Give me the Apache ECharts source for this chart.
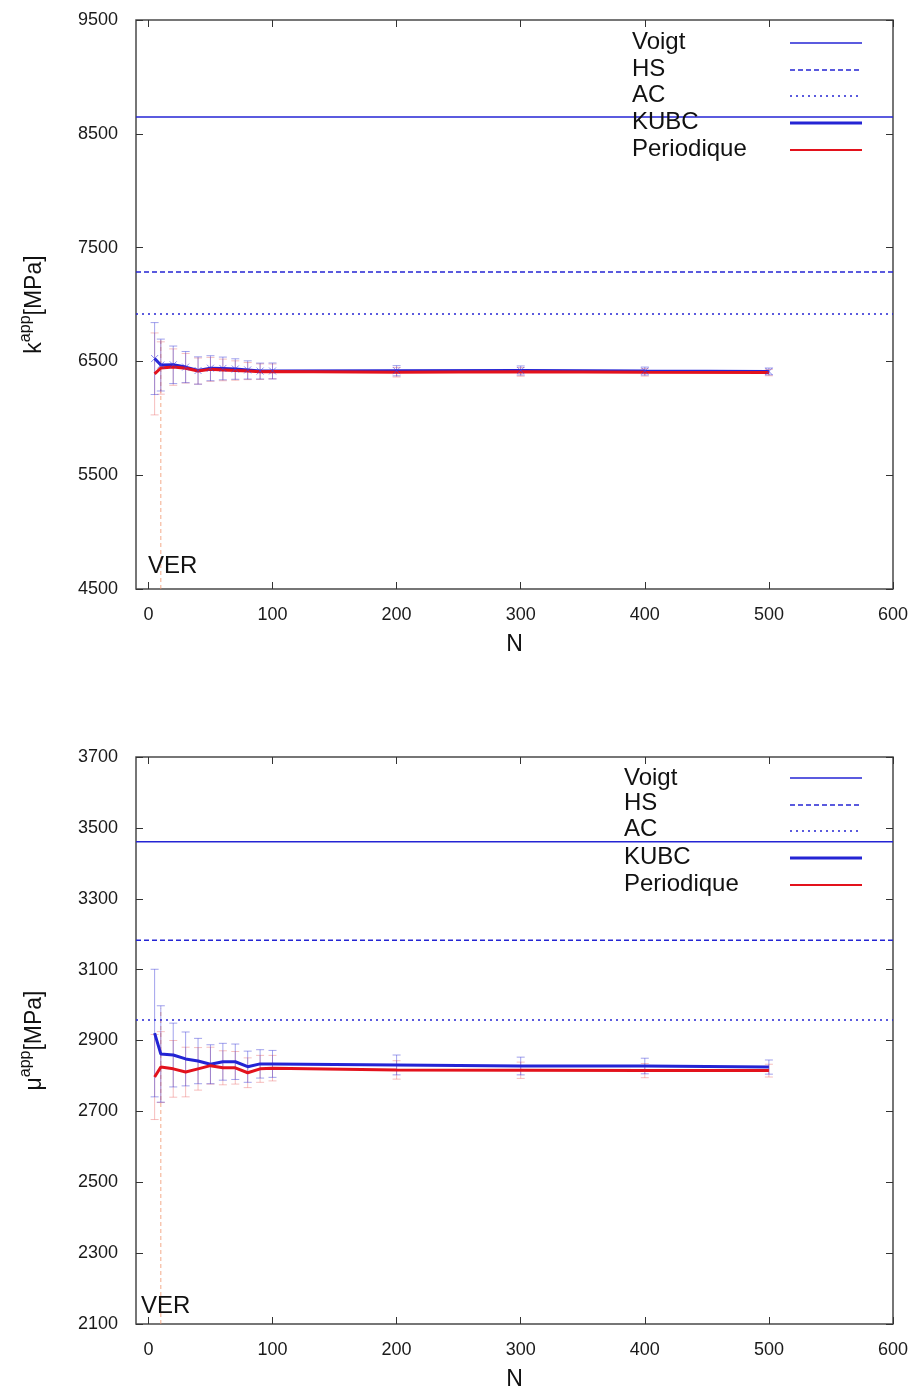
<!DOCTYPE html>
<html>
<head>
<meta charset="utf-8">
<script src="https://cdn.jsdelivr.net/npm/echarts@6/dist/echarts.min.js"></script>
<style>
  html, body { margin: 0; padding: 0; background: #fff; }
  #chart { width: 919px; height: 1392px; }
</style>
</head>
<body>
<div id="chart"></div>
<script>
// Number of inclusions in the volume element
const N = [5, 10, 20, 30, 40, 50, 60, 70, 80, 90, 100, 200, 300, 400, 500];

// Apparent bulk modulus k (MPa) with standard deviations
const kKUBC      = [6525, 6468, 6470, 6450, 6420, 6440, 6438, 6433, 6425, 6415, 6416, 6418, 6420, 6415, 6412];
const kKUBCErr   = [316, 228, 165, 137, 120, 110, 100, 90, 80, 70, 70, 45, 40, 35, 30];
const kPer       = [6390, 6442, 6450, 6440, 6415, 6430, 6425, 6420, 6415, 6410, 6412, 6405, 6408, 6404, 6402];
const kPerErr    = [360, 230, 160, 130, 115, 105, 95, 85, 75, 68, 65, 42, 38, 33, 28];
const kVoigt = 8648, kHS = 7286, kAC = 6917;

// Apparent shear modulus mu (MPa) with standard deviations
const muKUBC     = [2921, 2862, 2859, 2848, 2842, 2833, 2840, 2840, 2826, 2834, 2834, 2831, 2828, 2828, 2825];
const muKUBCErr  = [180, 136, 90, 76, 64, 55, 52, 50, 44, 40, 38, 28, 25, 22, 20];
const muPer      = [2797, 2825, 2820, 2811, 2820, 2829, 2823, 2823, 2809, 2820, 2822, 2817, 2816, 2815, 2815];
const muPerErr   = [120, 100, 80, 70, 60, 52, 48, 46, 42, 38, 36, 26, 23, 20, 18];
const muVoigt = 3461, muHS = 3183, muAC = 2958;

// Representative volume element size and extent of its marker line
const nVER = 10;
const kVERTop = 6700, muVERTop = 2990;

// Axis ticks
const xTicks  = [0, 100, 200, 300, 400, 500, 600];
const kTicks  = [4500, 5500, 6500, 7500, 8500, 9500];
const muTicks = [2100, 2300, 2500, 2700, 2900, 3100, 3300, 3500, 3700];
const xRange = [-10, 600];

const legendNames = ['Voigt', 'HS', 'AC', 'KUBC', 'Periodique'];

const FONT = 'Liberation Sans, Arial, sans-serif';
const BLUE = '#2424d4';
const RED = '#e3121c';
const BLUE_ERR = 'rgba(70,70,220,0.5)';
const RED_ERR = 'rgba(235,110,110,0.45)';
const FRAME = '#4a4a4a';

const chart = echarts.init(document.getElementById('chart'), null, { renderer: 'canvas' });

function errorSeries(xi, yi, xs, ys, errs, color) {
  return {
    type: 'custom',
    xAxisIndex: xi, yAxisIndex: yi,
    silent: true,
    z: 1,
    data: xs.map((x, i) => [x, ys[i] - errs[i], ys[i] + errs[i]]),
    renderItem: function (params, api) {
      const lo = api.coord([api.value(0), api.value(1)]);
      const hi = api.coord([api.value(0), api.value(2)]);
      const w = 4;
      const style = { stroke: color, lineWidth: 1 };
      return {
        type: 'group',
        children: [
          { type: 'line', shape: { x1: lo[0], y1: lo[1], x2: hi[0], y2: hi[1] }, style },
          { type: 'line', shape: { x1: lo[0] - w, y1: lo[1], x2: lo[0] + w, y2: lo[1] }, style },
          { type: 'line', shape: { x1: hi[0] - w, y1: hi[1], x2: hi[0] + w, y2: hi[1] }, style }
        ]
      };
    }
  };
}

function boundSeries(xi, yi, value, type, width) {
  return {
    type: 'line', xAxisIndex: xi, yAxisIndex: yi, silent: true,
    symbol: 'none', z: 2,
    data: [[xRange[0], value], [xRange[1], value]],
    lineStyle: { color: BLUE, width: width, type: type }
  };
}

function dataSeries(xi, yi, ys, color, withCross) {
  return {
    type: 'line', xAxisIndex: xi, yAxisIndex: yi, silent: true, z: 3,
    data: N.map((x, i) => [x, ys[i]]),
    symbol: withCross ? 'path://M0,0L10,10M10,0L0,10' : 'none',
    symbolSize: 7,
    showSymbol: withCross,
    itemStyle: { color: 'rgba(0,0,0,0)', borderColor: 'rgba(60,60,230,0.6)', borderWidth: 1 },
    lineStyle: { color: color, width: 3 }
  };
}

function verSeries(xi, yi, lo, hi) {
  return {
    type: 'line', xAxisIndex: xi, yAxisIndex: yi, silent: true, z: 0,
    symbol: 'none',
    data: [[nVER, lo], [nVER, hi]],
    lineStyle: { color: 'rgba(240,150,110,0.8)', width: 1, type: [4, 3] }
  };
}

function yAxisPair(gi, ticks, name) {
  const base = {
    gridIndex: gi, type: 'value', min: ticks[0], max: ticks[ticks.length - 1],
    splitLine: { show: false },
    axisLine: { show: false, onZero: false },
    axisTick: { inside: true, length: 7, customValues: ticks, lineStyle: { color: '#333', width: 1 } }
  };
  return [
    Object.assign({}, base, {
      position: 'left',
      axisLabel: { customValues: ticks, formatter: v => String(v), color: '#1a1a1a', fontSize: 18, fontFamily: FONT, margin: 18 },
      name: name,
      nameLocation: 'middle',
      nameGap: 90,
      nameTextStyle: {
        rich: {
          b: { fontSize: 23, fontFamily: FONT, color: '#111', verticalAlign: 'bottom' },
          s: { fontSize: 16, fontFamily: FONT, color: '#111', verticalAlign: 'top', padding: [0, 0, 12, 0] }
        }
      }
    }),
    Object.assign({}, base, { position: 'right', axisLabel: { show: false } })
  ];
}

function xAxisPair(gi) {
  const base = {
    gridIndex: gi, type: 'value', min: xRange[0], max: xRange[1],
    splitLine: { show: false },
    axisLine: { show: false, onZero: false },
    axisTick: { inside: true, length: 7, customValues: xTicks, lineStyle: { color: '#333', width: 1 } }
  };
  return [
    Object.assign({}, base, {
      position: 'bottom',
      axisLabel: { customValues: xTicks, formatter: v => String(v), color: '#1a1a1a', fontSize: 18, fontFamily: FONT, margin: 17 },
      name: 'N', nameLocation: 'middle', nameGap: 44,
      nameTextStyle: { fontSize: 23, fontFamily: FONT, color: '#111' }
    }),
    Object.assign({}, base, { position: 'top', axisLabel: { show: false } })
  ];
}

// Key drawn in the upper right corner of each panel: label on the left, line sample on the right
function keyGraphics(textLeft, rowsY, lineRowsY) {
  const styles = [
    { width: 1.5, dash: null, color: BLUE },
    { width: 1.5, dash: [5, 3], color: BLUE },
    { width: 1.5, dash: [2, 4], color: BLUE },
    { width: 3, dash: null, color: BLUE },
    { width: 2, dash: null, color: RED }
  ];
  const out = [];
  legendNames.forEach((name, i) => {
    out.push({
      type: 'text', left: textLeft, top: rowsY[i] - 13, z: 10,
      style: { text: name, font: '24px ' + FONT, fill: '#111' }
    });
    out.push({
      type: 'line', z: 10,
      shape: { x1: 790, y1: lineRowsY[i], x2: 862, y2: lineRowsY[i] },
      style: { stroke: styles[i].color, lineWidth: styles[i].width, lineDash: styles[i].dash }
    });
  });
  return out;
}

const xAxes = xAxisPair(0).concat(xAxisPair(1));
const yAxes = yAxisPair(0, kTicks, '{b|k}{s|app}{b|[MPa]}').concat(yAxisPair(1, muTicks, '{b|\u03bc}{s|app}{b|[MPa]}'));

const option = {
  backgroundColor: '#fff',
  animation: false,
  grid: [
    { left: 136, right: 26, top: 20, height: 569, show: true, borderColor: FRAME, borderWidth: 1.5, backgroundColor: 'transparent' },
    { left: 136, right: 26, top: 757, height: 569, show: true, borderColor: FRAME, borderWidth: 1.5, backgroundColor: 'transparent' }
  ],
  xAxis: xAxes,
  yAxis: yAxes,
  series: [
    // bulk modulus panel
    verSeries(0, 0, kTicks[0], kVERTop),
    errorSeries(0, 0, N, kPer, kPerErr, RED_ERR),
    errorSeries(0, 0, N, kKUBC, kKUBCErr, BLUE_ERR),
    boundSeries(0, 0, kVoigt, 'solid', 1.5),
    boundSeries(0, 0, kHS, [5, 3], 1.5),
    boundSeries(0, 0, kAC, [2, 4], 1.5),
    dataSeries(0, 0, kKUBC, BLUE, true),
    dataSeries(0, 0, kPer, RED, false),
    // shear modulus panel
    verSeries(2, 2, muTicks[0], muVERTop),
    errorSeries(2, 2, N, muPer, muPerErr, RED_ERR),
    errorSeries(2, 2, N, muKUBC, muKUBCErr, BLUE_ERR),
    boundSeries(2, 2, muVoigt, 'solid', 1.5),
    boundSeries(2, 2, muHS, [5, 3], 1.5),
    boundSeries(2, 2, muAC, [2, 4], 1.5),
    dataSeries(2, 2, muKUBC, BLUE, false),
    dataSeries(2, 2, muPer, RED, false)
  ],
  graphic: []
    .concat(keyGraphics(632, [43, 70, 96, 123, 150], [43, 70, 96, 123, 150]))
    .concat(keyGraphics(624, [779, 804, 830, 858, 885], [778, 805, 831, 858, 885]))
    .concat([
      { type: 'text', left: 148, top: 554, z: 10, style: { text: 'VER', font: '24px ' + FONT, fill: '#111' } },
      { type: 'text', left: 141, top: 1294, z: 10, style: { text: 'VER', font: '24px ' + FONT, fill: '#111' } }
    ])
};

chart.setOption(option);
</script>
</body>
</html>
